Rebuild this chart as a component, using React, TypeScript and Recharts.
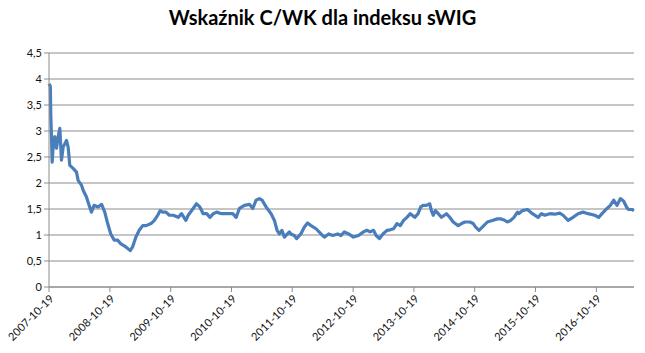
import React from "react";
import { LineChart, Line, XAxis, YAxis, CartesianGrid } from "recharts";

const dates = [
  "2007-10-19", "2007-10-27", "2007-10-30", "2007-11-03", "2007-11-07", "2007-11-14", "2007-11-23", "2007-12-03",
  "2007-12-13", "2007-12-23", "2008-01-02", "2008-01-12", "2008-02-01", "2008-02-11", "2008-02-21", "2008-03-12",
  "2008-04-01", "2008-04-11", "2008-05-01", "2008-05-11", "2008-05-31", "2008-06-10", "2008-06-30", "2008-07-16",
  "2008-08-09", "2008-08-30", "2008-09-18", "2008-10-03", "2008-10-24", "2008-11-14", "2008-12-04", "2008-12-24",
  "2009-01-23", "2009-02-18", "2009-03-04", "2009-03-24", "2009-04-13", "2009-05-04", "2009-05-24", "2009-06-23",
  "2009-07-13", "2009-08-02", "2009-08-17", "2009-09-01", "2009-09-21", "2009-10-11", "2009-11-03", "2009-12-03",
  "2009-12-23", "2010-01-18", "2010-02-01", "2010-03-03", "2010-03-23", "2010-04-12", "2010-05-02", "2010-05-23",
  "2010-06-12", "2010-07-02", "2010-07-22", "2010-08-21", "2010-09-20", "2010-10-27", "2010-11-16", "2010-12-06",
  "2011-01-05", "2011-02-04", "2011-02-24", "2011-03-16", "2011-04-05", "2011-04-21", "2011-05-15", "2011-06-14",
  "2011-07-04", "2011-07-20", "2011-08-03", "2011-08-18", "2011-09-02", "2011-10-02", "2011-10-11", "2011-10-31",
  "2011-11-14", "2011-12-10", "2011-12-30", "2012-01-19", "2012-02-09", "2012-03-10", "2012-04-09", "2012-04-29",
  "2012-05-25", "2012-06-18", "2012-07-18", "2012-08-07", "2012-08-27", "2012-09-22", "2012-10-21", "2012-11-20",
  "2012-12-20", "2013-01-09", "2013-01-29", "2013-02-18", "2013-03-06", "2013-03-26", "2013-04-16", "2013-05-10",
  "2013-05-30", "2013-06-19", "2013-07-09", "2013-07-29", "2013-08-18", "2013-09-07", "2013-09-27", "2013-10-24",
  "2013-11-13", "2013-11-29", "2013-12-13", "2014-01-02", "2014-01-22", "2014-02-01", "2014-02-12", "2014-02-25",
  "2014-03-14", "2014-04-03", "2014-05-03", "2014-05-22", "2014-06-12", "2014-07-12", "2014-08-01", "2014-08-21",
  "2014-09-20", "2014-10-10", "2014-10-25", "2014-11-14", "2014-12-04", "2015-01-03", "2015-02-02", "2015-03-04",
  "2015-03-24", "2015-04-13", "2015-05-03", "2015-05-23", "2015-06-12", "2015-07-03", "2015-07-12", "2015-08-02",
  "2015-09-01", "2015-10-01", "2015-11-04", "2015-11-24", "2015-12-14", "2016-01-13", "2016-02-12", "2016-03-13",
  "2016-04-02", "2016-05-02", "2016-06-01", "2016-07-01", "2016-07-31", "2016-08-30", "2016-10-09", "2016-11-02",
  "2016-11-22", "2016-12-22", "2017-01-11", "2017-01-31", "2017-02-20", "2017-03-12", "2017-04-01", "2017-04-21",
  "2017-05-01", "2017-05-21", "2017-06-02",
];

const cwk = [
  3.91, 3.86, 3.27, 2.89, 2.4, 2.75, 2.89, 2.67,
  2.89, 3.05, 2.44, 2.69, 2.82, 2.69, 2.34, 2.28,
  2.21, 2.05, 1.96, 1.86, 1.73, 1.63, 1.44, 1.57,
  1.54, 1.59, 1.44, 1.25, 1.02, 0.9, 0.9, 0.83,
  0.77, 0.7, 0.77, 0.96, 1.09, 1.18, 1.18, 1.22,
  1.28, 1.38, 1.47, 1.44, 1.44, 1.38, 1.38, 1.34,
  1.41, 1.28, 1.38, 1.51, 1.6, 1.54, 1.41, 1.41,
  1.34, 1.41, 1.44, 1.41, 1.41, 1.41, 1.34, 1.51,
  1.57, 1.59, 1.51, 1.67, 1.7, 1.67, 1.54, 1.41,
  1.28, 1.09, 1.02, 1.09, 0.96, 1.06, 1.02, 0.99,
  0.93, 1.02, 1.15, 1.23, 1.18, 1.12, 1.02, 0.96,
  1.02, 0.99, 1.02, 0.99, 1.06, 1.02, 0.96, 0.99,
  1.06, 1.09, 1.06, 1.09, 0.99, 0.93, 1.02, 1.09,
  1.1, 1.12, 1.22, 1.18, 1.28, 1.34, 1.41, 1.34,
  1.41, 1.54, 1.57, 1.57, 1.6, 1.47, 1.38, 1.47,
  1.41, 1.34, 1.41, 1.34, 1.25, 1.18, 1.22, 1.25,
  1.25, 1.22, 1.15, 1.09, 1.15, 1.25, 1.28, 1.31,
  1.31, 1.29, 1.25, 1.28, 1.34, 1.44, 1.41, 1.47,
  1.49, 1.41, 1.34, 1.41, 1.38, 1.41, 1.4, 1.42,
  1.38, 1.28, 1.34, 1.41, 1.44, 1.41, 1.38, 1.34,
  1.41, 1.51, 1.57, 1.67, 1.57, 1.7, 1.65, 1.52,
  1.49, 1.49, 1.47,
];

const xTickLabels = [
  "2007-10-19", "2008-10-19", "2009-10-19", "2010-10-19", "2011-10-19",
  "2012-10-19", "2013-10-19", "2014-10-19", "2015-10-19", "2016-10-19",
];

const yTicks = [0, 0.5, 1, 1.5, 2, 2.5, 3, 3.5, 4, 4.5];

const data = dates.map((d, i) => ({ t: Date.parse(d), v: cwk[i] }));
const xTicks = xTickLabels.map((d) => Date.parse(d));

const fmtDate = (t: number) => new Date(t).toISOString().slice(0, 10);
const fmtNum = (v: number) => String(v).replace(".", ",");

const font = "Lato, 'Open Sans', sans-serif";

export default function App() {
  return (
    <div style={{ position: "absolute", left: 0, top: 0, width: 645, height: 353, background: "#fff", fontFamily: font }}>
      <div
        style={{
          position: "absolute",
          left: 0,
          top: 5,
          width: 645,
          textAlign: "center",
          fontSize: 20,
          fontWeight: 700,
          color: "#000",
        }}
      >
        Wskaźnik C/WK dla indeksu sWIG
      </div>
      <LineChart
        width={645}
        height={353}
        data={data}
        margin={{ top: 53, right: 11, left: 0, bottom: 6 }}
      >
        <CartesianGrid vertical={false} stroke="#8c8c8c" strokeWidth={1} />
        <XAxis
          dataKey="t"
          type="number"
          scale="time"
          domain={[data[0].t, data[data.length - 1].t]}
          ticks={xTicks}
          tickFormatter={fmtDate}
          interval={0}
          angle={-45}
          textAnchor="end"
          height={60}
          tickSize={5}
          stroke="#8c8c8c"
          tick={{ fill: "#111", fontSize: 11, fontFamily: font }}
        />
        <YAxis
          type="number"
          domain={[0, 4.5]}
          ticks={yTicks}
          tickFormatter={fmtNum}
          width={49}
          tickSize={5}
          stroke="#8c8c8c"
          tick={{ fill: "#111", fontSize: 11, fontFamily: font }}
        />
        <Line
          type="linear"
          dataKey="v"
          stroke="#4a7ebb"
          strokeWidth={3.2}
          strokeLinejoin="round"
          dot={false}
          isAnimationActive={false}
        />
      </LineChart>
    </div>
  );
}
